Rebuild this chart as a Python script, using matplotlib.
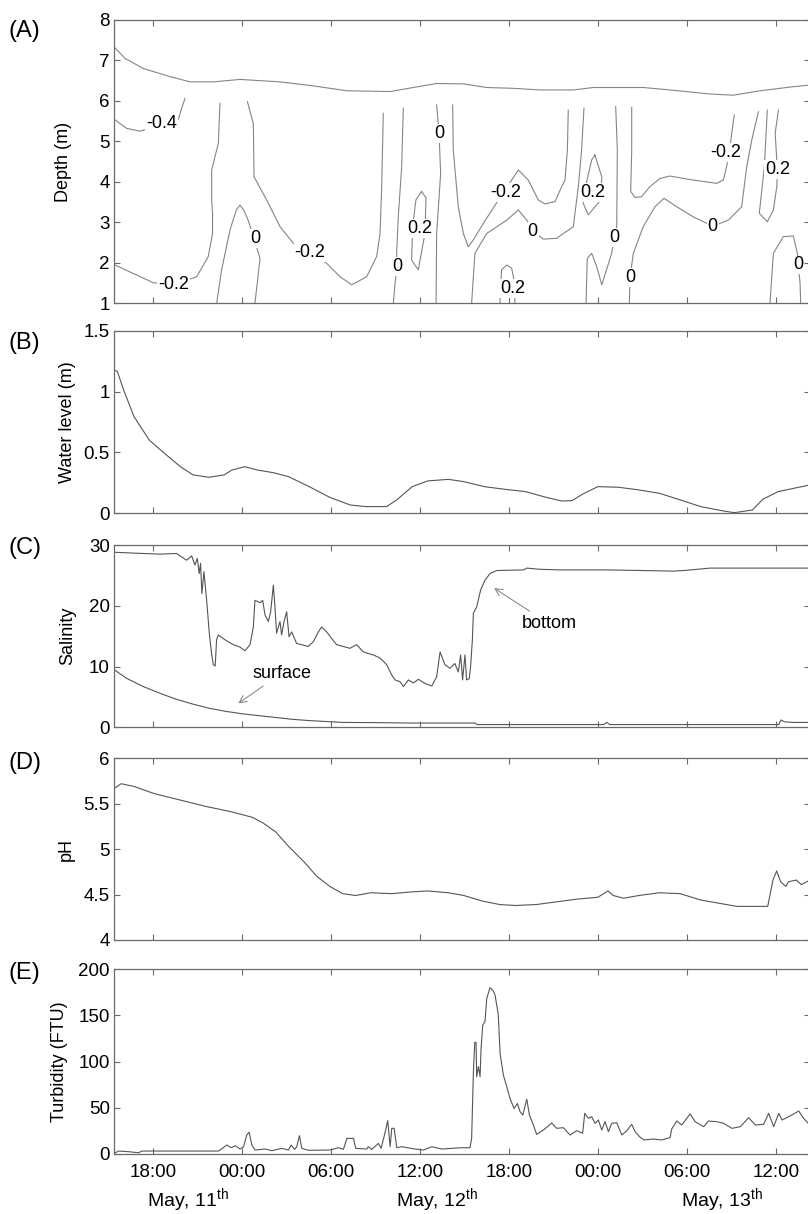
import matplotlib
matplotlib.use("Agg")
import matplotlib.pyplot as plt
import matplotlib.transforms as mtransforms

plt.rcParams['font.family'] = ['Liberation Sans', 'DejaVu Sans']
plt.rcParams['mathtext.fontset'] = 'custom'
plt.rcParams['mathtext.rm'] = 'Liberation Sans'
plt.rcParams['mathtext.it'] = 'Liberation Sans:italic'

# ---------------- time axis (hours since May 11, 00:00) ----------------
x_ticks = [18, 24, 30, 36, 42, 48, 54, 60]
x_ticklabels = ['18:00', '00:00', '06:00', '12:00', '18:00', '00:00', '06:00', '12:00']
day_labels = ['May, 11$^{\\rm th}$', 'May, 12$^{\\rm th}$', 'May, 13$^{\\rm th}$']
day_label_pos = [20.35, 37.12, 56.37]
x_min, x_max = 15.35, 62.31

# ---------------- (A) velocity contours: depth (m) vs time ----------------
surf_line = [(15.42, 7.31), (16.1, 7.05), (17.33, 6.80), (19.13, 6.60), (20.48, 6.47), (22.05, 6.47),
             (23.85, 6.53), (25.65, 6.49), (26.55, 6.47), (28.8, 6.37), (31.05, 6.25), (33.97, 6.23),
             (35.54, 6.33), (37.12, 6.43), (38.92, 6.42), (40.5, 6.33), (42.29, 6.31), (44.1, 6.27),
             (46.34, 6.27), (47.69, 6.33), (51.06, 6.33), (52.86, 6.27), (55.56, 6.17), (57.13, 6.14),
             (58.94, 6.25), (61.18, 6.35), (62.31, 6.39)]
c_m04 = [(15.42, 5.53), (16.2, 5.32), (17.1, 5.25), (18.5, 5.4), (19.7, 5.55), (19.9, 5.8), (20.14, 6.06)]
c_m02a = [(15.42, 1.94), (16.65, 1.73), (18.0, 1.50), (19.35, 1.45), (20.93, 1.65), (21.71, 2.15),
          (22.0, 2.72), (22.0, 3.2), (21.94, 3.55), (21.94, 4.29), (22.39, 4.95), (22.5, 5.94)]
c_0a = [(22.28, 1.0), (22.6, 1.8), (23.18, 2.81), (23.6, 3.3), (23.85, 3.42), (24.1, 3.3), (24.4, 3.05),
        (24.8, 2.6), (25.2, 2.1), (25.05, 1.6), (24.86, 1.0)]
c_m02b = [(24.35, 5.98), (24.75, 5.44), (24.8, 4.12), (25.65, 3.55), (26.55, 2.89), (27.45, 2.48),
          (28.57, 2.25), (29.7, 1.98), (30.6, 1.65), (31.39, 1.45), (32.4, 1.65), (33.07, 2.15),
          (33.3, 2.72), (33.41, 3.88), (33.52, 5.69)]
c_0b = [(34.87, 5.82), (34.76, 4.37), (34.53, 3.13), (34.42, 2.23), (34.46, 1.9), (34.31, 1.49), (34.2, 1.0)]
c_02a = [(36.1, 3.76), (36.4, 3.6), (36.33, 2.72), (35.88, 1.82), (35.43, 2.06), (35.5, 2.88),
         (35.72, 3.55), (36.1, 3.76)]
c_0c = [(37.12, 5.9), (37.28, 5.2), (37.39, 4.21), (37.12, 2.72), (37.08, 1.0)]
c_m02c = [(38.2, 5.9), (38.24, 4.78), (38.58, 3.38), (38.92, 2.72), (39.25, 2.39), (39.59, 2.56),
          (40.27, 2.97), (41.06, 3.42), (41.8, 3.83), (42.63, 4.29), (43.3, 4.04), (43.98, 3.55),
          (44.43, 3.45), (45.11, 3.51), (45.56, 3.88), (45.78, 4.04), (45.94, 4.78), (46.0, 5.77)]
c_0d = [(39.48, 1.0), (39.7, 2.23), (40.5, 2.72), (41.85, 3.05), (42.63, 3.3), (43.2, 3.05), (43.6, 2.78),
        (44.32, 2.58), (45.22, 2.6), (45.44, 2.66), (46.34, 2.89), (46.68, 3.88), (46.9, 4.78), (47.06, 5.82)]
c_02b = [(47.8, 4.66), (48.26, 4.12), (48.19, 3.55), (47.35, 3.18), (47.0, 3.47), (47.24, 4.0),
         (47.58, 4.54), (47.8, 4.66)]
c_0e = [(49.2, 5.86), (49.31, 4.78), (49.27, 2.89), (49.09, 2.63), (48.93, 2.23), (48.26, 1.45),
        (47.92, 1.9), (47.58, 2.23), (47.28, 2.1), (47.2, 1.0)]
c_m02d = [(50.28, 5.84), (50.28, 4.78), (50.21, 3.76), (50.5, 3.61), (50.95, 3.63), (51.51, 3.88),
          (52.19, 4.08), (52.86, 4.14), (54.44, 4.04), (56.01, 3.96), (56.46, 4.04), (56.7, 4.4),
          (56.9, 4.8), (57.03, 5.2), (57.2, 5.65)]
c_0f = [(50.12, 1.0), (50.17, 1.64), (50.39, 2.23), (51.06, 2.89), (51.85, 3.38), (52.46, 3.59),
        (53.32, 3.38), (54.44, 3.13), (55.75, 2.9), (56.8, 3.05), (57.7, 3.38), (58.04, 4.37),
        (58.38, 5.03), (58.83, 5.73)]
c_02c = [(59.43, 5.77), (59.23, 4.37), (58.89, 3.22), (59.43, 3.01), (59.84, 3.3), (60.07, 3.88),
         (60.11, 4.3), (59.96, 5.2), (60.18, 5.77)]
c_0g = [(59.61, 1.0), (59.84, 2.23), (60.51, 2.64), (61.18, 2.66), (61.46, 2.23), (61.52, 1.94),
        (61.64, 1.49), (61.68, 1.0)]
c_02d = [(41.39, 1.0), (41.5, 1.82), (41.85, 1.94), (42.18, 1.86), (42.34, 1.57), (42.4, 1.0)]
contour_paths = [c_m04, c_m02a, c_0a, c_m02b, c_0b, c_02a, c_0c, c_m02c, c_0d, c_02b, c_0e,
                 c_m02d, c_0f, c_02c, c_0g, c_02d]
contour_labels = [('-0.4', 18.57, 5.44), ('-0.2', 19.35, 1.45), ('0', 24.86, 2.6), ('-0.2', 28.57, 2.25),
                  ('0', 34.46, 1.9), ('0.2', 36.0, 2.85), ('0', 37.28, 5.2), ('-0.2', 41.8, 3.73),
                  ('0', 43.6, 2.78), ('0.2', 42.23, 1.36), ('0.2', 47.65, 3.73), ('0', 49.09, 2.63),
                  ('-0.2', 56.64, 4.72), ('0', 50.17, 1.64), ('0', 55.75, 2.9), ('0.2', 60.11, 4.3),
                  ('0', 61.52, 1.94)]

# ---------------- (B) water level ----------------
wl_t = [15.35, 15.58, 16.0, 16.7, 17.74, 18.78, 19.83, 20.69, 21.74, 22.78, 23.3, 24.17, 25.04, 26.08,
        27.13, 28.52, 29.91, 31.3, 32.34, 33.74, 34.43, 35.47, 36.52, 37.91, 38.95, 40.34, 41.73,
        43.12, 44.51, 45.56, 46.25, 46.95, 47.99, 49.38, 50.77, 52.16, 53.55, 54.94, 56.33, 57.2,
        58.42, 59.12, 60.16, 61.2, 62.31]
wl_v = [1.18, 1.164, 1.013, 0.794, 0.60, 0.49, 0.383, 0.315, 0.296, 0.315, 0.355, 0.383, 0.355, 0.334,
        0.301, 0.219, 0.131, 0.068, 0.055, 0.055, 0.11, 0.219, 0.266, 0.279, 0.26, 0.219, 0.197,
        0.178, 0.131, 0.101, 0.104, 0.156, 0.219, 0.214, 0.192, 0.164, 0.11, 0.055, 0.022, 0.005,
        0.027, 0.115, 0.178, 0.205, 0.233]

# ---------------- (C) salinity ----------------
sal_bot_t = [15.42, 17.33, 18.45, 19.57, 20.25, 20.59, 20.81, 20.97, 21.1, 21.19, 21.28, 21.42, 21.6,
             21.78, 21.93, 22.05, 22.18, 22.27, 22.39, 22.84, 23.4, 23.85, 24.19, 24.53, 24.75, 24.86,
             25.2, 25.38, 25.54, 25.76, 25.92, 26.1, 26.21, 26.32, 26.55, 26.66, 26.82, 27.0, 27.16,
             27.34, 27.67, 28.46, 28.8, 29.14, 29.36, 29.7, 30.04, 30.37, 30.82, 31.27, 31.72, 32.17,
             32.85, 33.3, 33.75, 34.09, 34.31, 34.65, 34.88, 35.21, 35.55, 35.89, 36.34, 36.79, 37.12,
             37.35, 37.68, 38.02, 38.35, 38.58, 38.74, 38.87, 39.03, 39.14, 39.32, 39.41, 39.53, 39.6,
             39.82, 40.09, 40.38, 40.72, 41.17, 42.97, 43.2, 44.09, 45.5, 48.6, 51.0, 53.1, 53.8,
             55.57, 58.0, 62.31]
sal_bot_v = [28.8, 28.6, 28.5, 28.6, 27.5, 28.2, 26.7, 27.8, 25.3, 27.0, 22.0, 25.6, 20.9,
             15.5, 12.2, 10.3, 10.1, 14.4, 15.2, 14.4, 13.6, 13.2, 12.6, 13.6, 16.5, 20.9,
             20.5, 20.9, 18.5, 17.4, 19.0, 23.4, 19.8, 15.5, 17.4, 15.2, 17.4, 19.0, 14.9,
             15.7, 13.8, 13.3, 14.1, 15.7, 16.5, 15.7, 14.6, 13.6, 13.3, 13.0, 13.6, 12.4,
             11.9, 11.4, 10.3, 8.6, 7.8, 7.5, 6.7, 7.8, 7.3, 7.9, 7.2, 6.8, 8.3,
             12.4, 10.3, 9.7, 10.5, 9.1, 11.9, 7.8, 11.9, 7.8, 8.0, 10.0, 14.4, 18.8,
             19.8, 22.6, 24.2, 25.3, 25.8, 25.9, 26.2, 26.0, 25.9, 25.9, 25.8, 25.7, 25.8,
             26.2, 26.2, 26.2]
sal_surf_t = [15.35, 16.2, 17.33, 18.45, 19.57, 20.7, 21.83, 22.95, 24.07, 25.2, 26.32, 27.45, 28.57,
              30.82, 33.07, 35.32, 37.5, 39.7, 39.85, 48.4, 48.6, 48.8, 60.2, 60.35, 60.6, 61.2, 62.31]
sal_surf_v = [9.5, 8.06, 6.7, 5.6, 4.6, 3.8, 3.1, 2.6, 2.2, 1.9, 1.6, 1.3, 1.1,
              0.8, 0.77, 0.7, 0.7, 0.7, 0.45, 0.45, 0.8, 0.45, 0.45, 1.2, 0.9, 0.8, 0.8]

# ---------------- (D) pH ----------------
ph_t = [15.38, 15.83, 16.7, 18.09, 19.83, 21.56, 23.3, 24.69, 25.39, 26.26, 27.13, 28.17, 29.04,
        29.91, 30.78, 31.65, 32.69, 34.08, 35.47, 36.52, 37.91, 38.95, 40.17, 41.38, 42.43, 43.82,
        45.21, 46.6, 47.99, 48.68, 49.03, 49.73, 50.77, 52.16, 53.55, 54.94, 56.33, 57.38, 59.46,
        59.81, 60.06, 60.33, 60.68, 60.85, 61.38, 61.73, 62.31]
ph_v = [5.67, 5.72, 5.69, 5.61, 5.54, 5.47, 5.41, 5.35, 5.29, 5.19, 5.03, 4.86, 4.70,
        4.59, 4.51, 4.49, 4.52, 4.51, 4.53, 4.54, 4.52, 4.49, 4.43, 4.39, 4.38, 4.39,
        4.42, 4.45, 4.47, 4.54, 4.49, 4.46, 4.49, 4.52, 4.51, 4.44, 4.40, 4.37, 4.37,
        4.66, 4.76, 4.64, 4.59, 4.64, 4.66, 4.61, 4.66]

# ---------------- (E) turbidity ----------------
tur_t = [15.35, 15.66, 16.34, 17.01, 17.23, 18.36, 22.4, 22.96, 23.26, 23.53, 23.86, 24.09, 24.31,
         24.47, 24.65, 24.87, 25.55, 26.0, 26.67, 27.12, 27.3, 27.53, 27.68, 27.86, 28.02, 28.47,
         29.93, 30.49, 30.83, 31.06, 31.51, 31.66, 32.4, 32.51, 32.74, 33.19, 33.37, 33.6, 33.82,
         33.98, 34.09, 34.25, 34.43, 34.76, 35.66, 36.23, 36.79, 37.46, 38.14, 38.81, 39.37, 39.48,
         39.6, 39.69, 39.78, 39.82, 39.94, 40.05, 40.11, 40.23, 40.38, 40.5, 40.72, 40.9, 41.06,
         41.28, 41.4, 41.62, 41.85, 42.07, 42.34, 42.57, 42.75, 42.93, 43.2, 43.38, 43.65, 43.87,
         44.32, 44.88, 45.22, 45.67, 46.12, 46.57, 46.97, 47.11, 47.36, 47.58, 47.81, 48.03, 48.26,
         48.48, 48.71, 48.93, 49.27, 49.61, 49.94, 50.28, 50.51, 50.8, 51.11, 51.74, 52.3, 52.87,
         52.98, 53.32, 53.66, 54.22, 54.56, 55.13, 55.46, 56.03, 56.48, 57.04, 57.61, 58.17, 58.62,
         59.18, 59.52, 59.86, 60.2, 60.42, 60.87, 61.55, 61.88, 62.31]
tur_v = [0.7, 3.2, 2.5, 1.4, 3.2, 3.2, 3.2, 9.7, 6.8, 9.0, 5.4, 7.9, 20.6,
         23.5, 9.7, 4.3, 5.4, 3.6, 6.1, 4.3, 9.7, 5.0, 7.9, 19.8, 6.1, 4.0,
         4.3, 6.8, 5.0, 16.9, 16.9, 6.1, 5.4, 7.9, 5.0, 11.5, 6.1, 20.6, 36.1,
         7.9, 27.8, 27.8, 6.8, 7.9, 5.4, 4.3, 7.9, 5.4, 6.1, 6.8, 6.8, 16.9,
         89.2, 120.9, 120.9, 83.7, 94.6, 83.7, 112.6, 139.7, 143.3, 168.5, 180.1, 177.6, 172.2,
         150.5, 108.9, 85.5, 72.8, 60.2, 49.3, 54.7, 45.7, 42.1, 59.4, 42.1, 31.3, 21.2,
         25.9, 33.5, 27.8, 28.5, 20.6, 25.3, 22.4, 44.1, 38.6, 40.4, 33.2, 36.8, 25.9,
         35.0, 24.2, 33.2, 33.9, 20.6, 25.0, 32.1, 24.2, 18.8, 15.2, 16.2, 15.2, 17.7,
         27.1, 35.7, 31.4, 43.3, 35.0, 29.6, 35.7, 35.0, 33.2, 27.8, 29.6, 39.3, 31.4,
         32.1, 44.0, 29.6, 44.0, 36.8, 40.4, 46.5, 38.6, 31.4]

panel_letters = ['(A)', '(B)', '(C)', '(D)', '(E)']
y_labels = ['Depth (m)', 'Water level (m)', 'Salinity', 'pH', 'Turbidity (FTU)']
yticks_a = [1, 2, 3, 4, 5, 6, 7, 8]
yticks_b = [0, 0.5, 1, 1.5]
yticklabels_b = ['0', '0.5', '1', '1.5']
yticks_c = [0, 10, 20, 30]
yticks_d = [4, 4.5, 5, 5.5, 6]
yticklabels_d = ['4', '4.5', '5', '5.5', '6']
yticks_e = [0, 50, 100, 150, 200]

# ---------------- figure ----------------
W, H = 808, 1214
fig = plt.figure(figsize=(W / 100, H / 100), dpi=100)
left_px, right_px = 114, 810
panel_px = [(20, 303), (330.7, 513.3), (545, 727.3), (758.3, 940), (969.3, 1154)]
axes = []
for top, bot in panel_px:
    ax = fig.add_axes([left_px / W, 1 - bot / H, (right_px - left_px) / W, (bot - top) / H])
    axes.append(ax)

spine_col = '#6a6a6a'
line_col = '#555555'
cont_col = '#858585'
fs = 13
tfs = 13.5

for i, ax in enumerate(axes):
    ax.set_xlim(x_min, x_max)
    ax.set_xticks(x_ticks)
    for s in ax.spines.values():
        s.set_color(spine_col)
        s.set_linewidth(0.9)
    ax.tick_params(direction='in', length=4, width=0.8, color=spine_col, top=True, right=True,
                   labelsize=tfs, pad=3)
    if i < 4:
        ax.tick_params(labelbottom=False)
    else:
        ax.set_xticklabels(x_ticklabels)
        ax.tick_params(axis='x', pad=7.5)

# (A)
ax = axes[0]
ax.set_ylim(1, 8)
ax.set_yticks(yticks_a)
ax.plot([p[0] for p in surf_line], [p[1] for p in surf_line], color=cont_col, lw=0.8)
for path in contour_paths:
    ax.plot([p[0] for p in path], [p[1] for p in path], color=cont_col, lw=0.8)
for txt, tx, ty in contour_labels:
    ax.text(tx, ty, txt, ha='center', va='center', fontsize=fs, color='black',
            bbox=dict(facecolor='white', edgecolor='none', pad=0.6))

# (B)
ax = axes[1]
ax.set_ylim(0, 1.5)
ax.set_yticks(yticks_b)
ax.set_yticklabels(yticklabels_b)
ax.plot(wl_t, wl_v, color=line_col, lw=0.8)

# (C)
ax = axes[2]
ax.set_ylim(0, 30)
ax.set_yticks(yticks_c)
ax.plot(sal_bot_t, sal_bot_v, color=line_col, lw=0.8)
ax.plot(sal_surf_t, sal_surf_v, color=line_col, lw=0.8)
ax.annotate('surface', xy=(23.74, 3.95), xytext=(26.66, 8.9), ha='center', va='center', fontsize=fs,
            arrowprops=dict(arrowstyle='->', color='#808080', lw=0.7, shrinkA=2, shrinkB=0))
ax.annotate('bottom', xy=(41.0, 22.9), xytext=(44.73, 17.0), ha='center', va='center', fontsize=fs,
            arrowprops=dict(arrowstyle='->', color='#808080', lw=0.7, shrinkA=2, shrinkB=0))

# (D)
ax = axes[3]
ax.set_ylim(4, 6)
ax.set_yticks(yticks_d)
ax.set_yticklabels(yticklabels_d)
ax.plot(ph_t, ph_v, color=line_col, lw=0.8)

# (E)
ax = axes[4]
ax.set_ylim(0, 200)
ax.set_yticks(yticks_e)
ax.plot(tur_t, tur_v, color=line_col, lw=0.8)
trans = mtransforms.blended_transform_factory(ax.transData, fig.transFigure)
for lab, pos in zip(day_labels, day_label_pos):
    ax.text(pos, 1 - 1206 / H, lab, transform=trans, ha='center', va='baseline', fontsize=14)

# y labels and panel letters
label_x_px = [72, 76, 76, 75, 68]
letter_top_px = [20, 332, 537, 752, 962]
for ax, lab, lx in zip(axes, y_labels, label_x_px):
    ax.set_ylabel(lab, fontsize=fs)
    ax.yaxis.set_label_coords((lx - left_px) / (right_px - left_px), 0.5)
for let, ty in zip(panel_letters, letter_top_px):
    fig.text(9 / W, 1 - ty / H, let, ha='left', va='top', fontsize=17)

fig.savefig('out.png', dpi=100, facecolor='white')
